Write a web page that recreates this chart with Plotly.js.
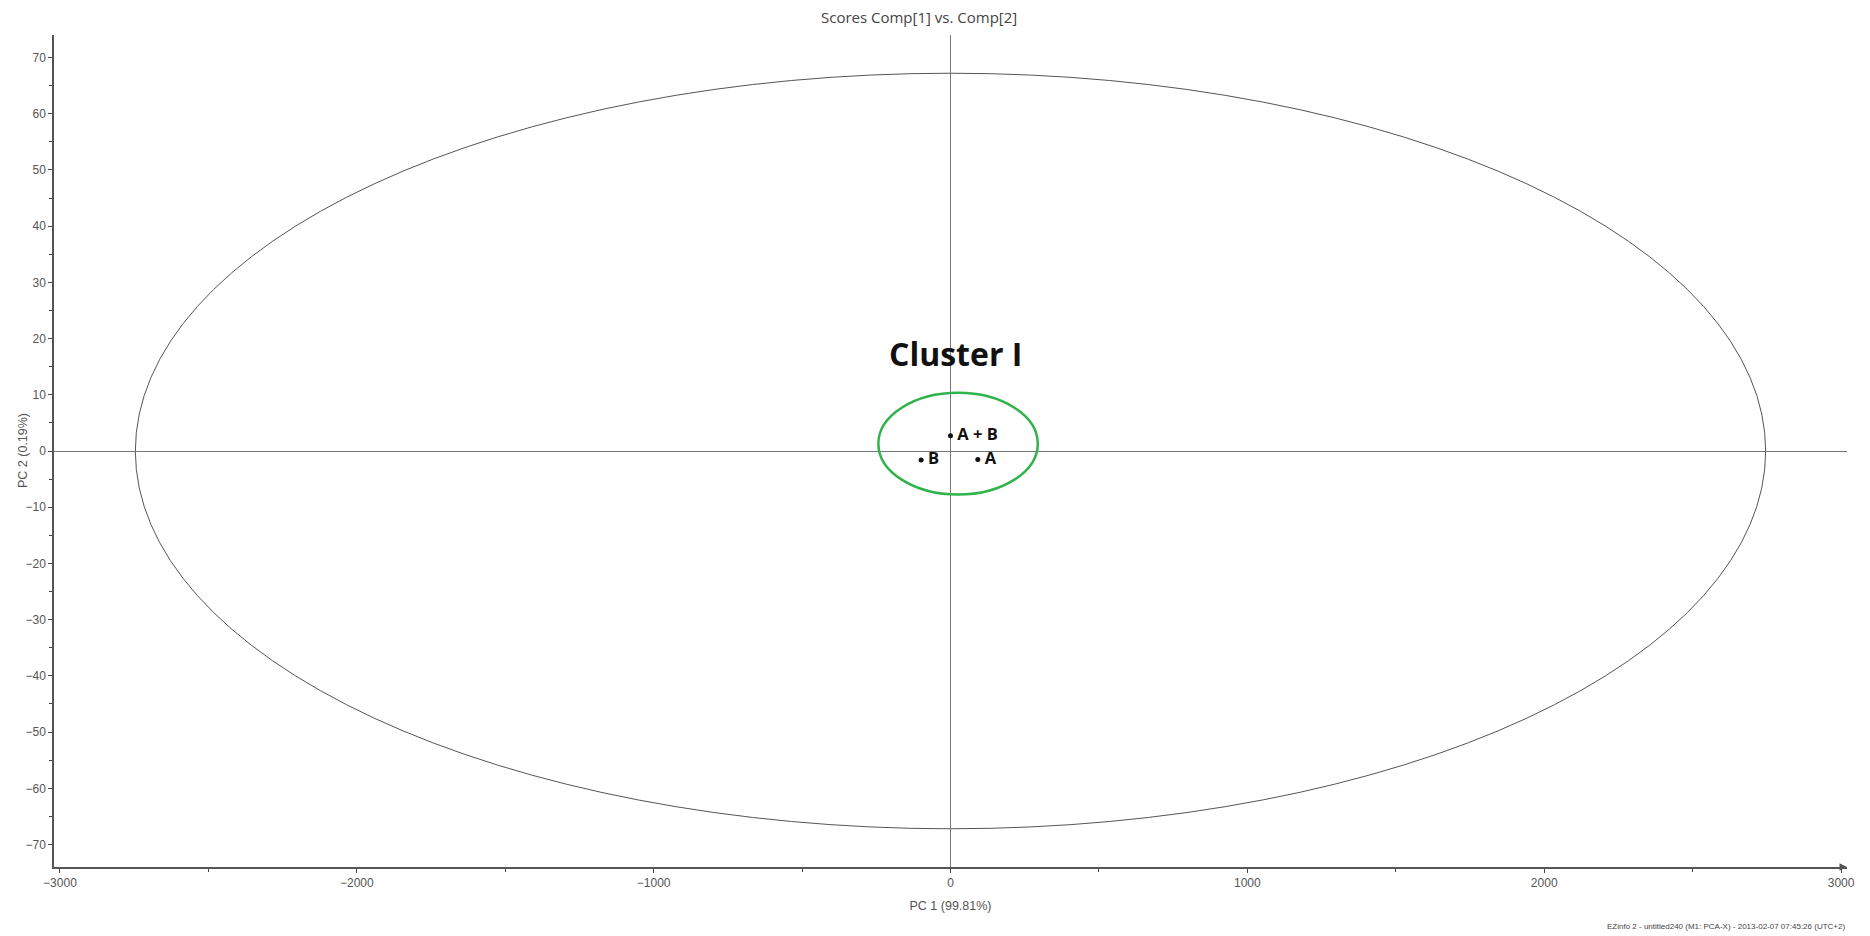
<!DOCTYPE html>
<html>
<head>
<meta charset="utf-8">
<script src="https://cdn.plot.ly/plotly-3.0.1.min.js"></script>
<style>html,body{margin:0;padding:0;background:#fff;}#chart{width:1870px;height:936px;}</style>
</head>
<body>
<div id="chart"></div>
<script>
// Sample scores
const pointLabels = ['A + B', 'B', 'A'];
const pc1Scores = [0, -99, 92];
const pc2Scores = [2.7, -1.6, -1.5];

// Hotelling T2 ellipse semi-axes (PC1, PC2)
const hotellingPC1 = [-2746, 2746];
const hotellingPC2 = [-67.2, 67.2];

// Cluster ring bounds
const clusterPC1 = [-243, 294];
const clusterPC2 = [-7.75, 10.35];
const clusterLabel = 'Cluster I';
const clusterLabelPos = [17, 17.4];

// Axis ticks
const xTicks = [-3000, -2000, -1000, 0, 1000, 2000, 3000];
const yTicks = [-70, -60, -50, -40, -30, -20, -10, 0, 10, 20, 30, 40, 50, 60, 70];

const titleText = 'Scores Comp[1] vs. Comp[2]';
const xTitle = 'PC 1 (99.81%)';
const yTitle = 'PC 2 (0.19%)';
const footer = 'EZinfo 2 - untitled240 (M1: PCA-X) - 2013-02-07 07:45:26 (UTC+2)';

const trace = {
  x: pc1Scores, y: pc2Scores, text: pointLabels.map(t => '\u2009' + t),
  mode: 'markers+text', type: 'scatter',
  marker: {color: '#111', size: 5},
  textposition: 'middle right',
  textfont: {family: 'Open Sans, sans-serif', size: 16.5, color: '#111', weight: 'bold'},
  cliponaxis: false, hoverinfo: 'x+y+text'
};

const tickFont = {family: 'Liberation Sans, Arial, sans-serif', size: 12, color: '#555'};
const titleFont = {family: 'Liberation Sans, Arial, sans-serif', size: 12.5, color: '#555'};

const layout = {
  width: 1870, height: 936,
  margin: {l: 54, r: 23, t: 35, b: 69},
  paper_bgcolor: '#fff', plot_bgcolor: '#fff',
  showlegend: false,
  title: {text: titleText, x: 0.4915, xanchor: 'center', y: 0.981, yanchor: 'middle',
          font: {family: 'Open Sans, sans-serif', size: 15, color: '#444'}},
  xaxis: {
    range: [-3020, 3020], tickvals: xTicks, ticks: 'outside', ticklen: 4, tickcolor: '#444',
    showgrid: false, zeroline: true, zerolinecolor: '#777', zerolinewidth: 1,
    showline: true, linecolor: '#555', linewidth: 1.5,
    minor: {dtick: 500, tick0: 0, ticks: 'outside', ticklen: 3, tickcolor: '#444'},
    tickfont: tickFont,
    title: {text: xTitle, standoff: 12, font: titleFont}
  },
  yaxis: {
    range: [-74, 74], tickvals: yTicks, ticks: 'outside', ticklen: 4, tickcolor: '#444',
    showgrid: false, zeroline: true, zerolinecolor: '#777', zerolinewidth: 1,
    showline: true, linecolor: '#555', linewidth: 1.5,
    minor: {dtick: 5, tick0: 0, ticks: 'outside', ticklen: 3, tickcolor: '#444'},
    tickfont: tickFont
  },
  shapes: [
    {type: 'circle', xref: 'x', yref: 'y', x0: hotellingPC1[0], x1: hotellingPC1[1],
     y0: hotellingPC2[0], y1: hotellingPC2[1], line: {color: '#555', width: 1}, layer: 'below'},
    {type: 'circle', xref: 'x', yref: 'y', x0: clusterPC1[0], x1: clusterPC1[1],
     y0: clusterPC2[0], y1: clusterPC2[1], line: {color: '#2fb34a', width: 2.5}}
  ],
  annotations: [
    {x: clusterLabelPos[0], y: clusterLabelPos[1], xref: 'x', yref: 'y', text: clusterLabel,
     showarrow: false, font: {family: 'Open Sans, sans-serif', size: 32, color: '#111', weight: 'bold'}},
    {x: 0, y: 0.5, xref: 'paper', yref: 'paper', xanchor: 'center', yanchor: 'middle',
     xshift: -31, text: yTitle, textangle: -90, showarrow: false, font: titleFont},
    {x: 1, y: 0, xref: 'paper', yref: 'paper', text: '', showarrow: true, arrowhead: 2,
     arrowsize: 1, arrowwidth: 1.5, arrowcolor: '#555', ax: -6, ay: 0},
    {x: 1, y: -0.072, xref: 'paper', yref: 'paper', xanchor: 'right', yanchor: 'middle',
     text: footer, showarrow: false, font: {family: 'Liberation Sans, Arial, sans-serif', size: 8, color: '#444'}}
  ]
};

Plotly.newPlot('chart', [trace], layout, {displayModeBar: false, responsive: false});
</script>
</body>
</html>
